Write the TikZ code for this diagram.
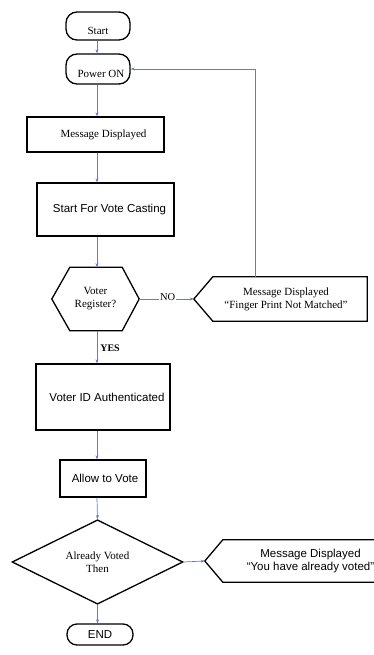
\documentclass[tikz,border=0pt]{standalone}
\usepackage{fontspec}
\setmainfont{Liberation Serif}
\setsansfont{Liberation Sans}
\usetikzlibrary{calc,shapes.geometric,arrows.meta}
\definecolor{lineblue}{RGB}{84,130,206}
\tikzset{
  x=1pt,y=1pt,
  shp/.style={draw=black,line width=1.3pt},
  rbox/.style={shp,rectangle,inner sep=2pt,align=center},
  term/.style={shp,rectangle,rounded corners=11pt,inner sep=0pt},
  ghost/.style={rectangle,draw=none,inner sep=0pt,align=center},
  arr/.style={draw=lineblue,line width=0.7pt,-{Stealth[length=4pt,width=3pt]}},
  lbl/.style={font=\fontsize{10.5}{12}\selectfont,inner sep=1pt},
  serif/.style={font=\fontsize{11}{13}\selectfont},
  sans/.style={font=\sffamily\fontsize{11.5}{13.5}\selectfont},
}
\begin{document}
\begin{tikzpicture}
\useasboundingbox (0,0) rectangle (374,-655);
\clip (0,0) rectangle (374,-655);
\fill[white] (0,0) rectangle (374,-655);
\coordinate (axis) at (97,0);
\coordinate (fb) at (255,0);

\node[term,serif,minimum width=64pt,minimum height=28pt] (start) at (98,-26) {\raisebox{-9pt}[0pt][0pt]{Start}};
\node[term,serif,minimum width=64pt,minimum height=30pt] (pon) at (98,-69) {\raisebox{-8.5pt}[0pt][0pt]{\hspace*{6pt}Power ON}};
\node[rbox,serif,minimum width=137pt,minimum height=35pt] (msg) at (95.5,-134.5) {\hspace*{16pt}Message Displayed};
\node[rbox,sans,minimum width=137pt,minimum height=53pt] (svc) at (105.5,-209.5) {\hspace*{8pt}Start For Vote Casting};

\node[ghost,serif,minimum width=87pt,minimum height=63pt] (reg) at (95.5,-299) {Voter\\Register?};
\draw[shp] (reg.west) -- ([xshift=18pt]reg.north west) -- ([xshift=-17pt]reg.north east) -- (reg.east)
  -- ([xshift=-17pt]reg.south east) -- ([xshift=18pt]reg.south west) -- cycle;

\node[ghost,serif,minimum width=154pt,minimum height=44pt] (fp) at (290,-299) {\hspace*{-8pt}Message Displayed\\\hspace*{-8pt}``Finger Print Not Matched''};
\coordinate (fptip) at ($(fp.west)+(-19,0)$);
\draw[shp] (fp.north west) -- (fp.north east) -- (fp.south east) -- (fp.south west) -- (fptip) -- cycle;

\node[rbox,sans,minimum width=134pt,minimum height=66pt] (vid) at (103,-397) {\hspace*{8pt}Voter ID Authenticated};
\node[rbox,sans,minimum width=86pt,minimum height=37pt] (atv) at (103,-478.5) {\hspace*{4pt}Allow to Vote};

\node[shp,diamond,serif,align=center,inner sep=0pt,minimum width=171pt,minimum height=71pt] (av) at (97.5,-562) {Already Voted\\Then};

\node[ghost,sans,minimum width=175pt,minimum height=42pt] (yav) at (310.5,-561) {Message Displayed\\``You have already voted''};
\coordinate (yavtip) at ($(yav.west)+(-18,0)$);
\draw[shp] (yav.north west) -- (yav.north east) -- (yav.south east) -- (yav.south west) -- (yavtip) -- cycle;

\node[term,sans,rounded corners=10pt,minimum width=66pt,minimum height=21pt] (end) at (100,-634.5) {END};

% connectors
\draw[arr] (start.south -| axis) -- (pon.north -| axis);
\draw[arr] (pon.south -| axis) -- (msg.north -| axis);
\draw[arr] (msg.south -| axis) -- (svc.north -| axis);
\draw[arr] (svc.south -| axis) -- (reg.north -| axis);
\draw[arr] (reg.east) -- node[lbl,pos=0.52,above=-3pt,fill=white] (no) {NO} (fptip);
\draw[arr] (fp.north -| fb) |- (pon.east);
\draw[arr] (reg.south -| axis) -- node[lbl,font=\fontsize{10}{12}\selectfont\bfseries,pos=0.55,anchor=west,xshift=2pt] (yes) {YES} (vid.north -| axis);
\draw[arr] (vid.south -| axis) -- (atv.north -| axis);
\draw[arr] (atv.south -| axis) -- (av.north);
\draw[arr] (av.east) -- (yavtip);
\draw[arr] (av.south) -- (end.north -| av.south);
\end{tikzpicture}
\end{document}
